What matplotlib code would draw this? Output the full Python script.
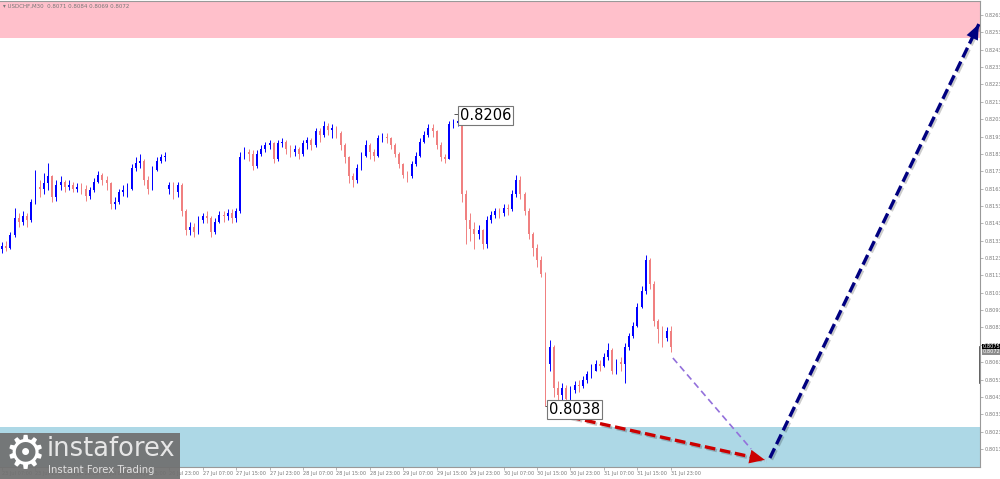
import numpy as np
import matplotlib
matplotlib.use("Agg")
import matplotlib.pyplot as plt
from matplotlib import patheffects as pe
from matplotlib.patches import Rectangle

# USDCHF prices in 1e-4 units (8130 -> 0.8130), one candle per hour
first_open = 8128
gap_bar, gap_open = 40, 8163          # Monday open after the weekend gap
closes = [
    8130, 8129, 8136, 8146, 8144, 8147, 8145, 8155, 8164, 8163,
    8166, 8170, 8158, 8165, 8167, 8164, 8165, 8163, 8164, 8163,
    8159, 8162, 8167, 8171, 8168, 8166, 8154, 8155, 8161, 8162,
    8163, 8175, 8178, 8179, 8168, 8163, 8174, 8179, 8181, 8182,
    8165, 8161, 8165, 8150, 8139, 8141, 8138, 8145, 8147, 8146,
    8138, 8144, 8148, 8147, 8149, 8146, 8150, 8181, 8184, 8183,
    8176, 8183, 8186, 8188, 8189, 8180, 8189, 8190, 8186, 8184,
    8186, 8183, 8189, 8191, 8188, 8196, 8194, 8199, 8197, 8198,
    8195, 8188, 8181, 8170, 8168, 8175, 8182, 8188, 8184, 8182,
    8192, 8193, 8192, 8188, 8183, 8177, 8171, 8170, 8177, 8182,
    8190, 8194, 8198, 8196, 8188, 8181, 8180, 8200, 8201, 8202,
    8160, 8145, 8140, 8137, 8139, 8131, 8145, 8148, 8150, 8149,
    8152, 8151, 8160, 8168, 8160, 8150, 8137, 8129, 8122, 8114,
    8062, 8072, 8048, 8044, 8048, 8042, 8047, 8050, 8049, 8053,
    8056, 8058, 8062, 8061, 8066, 8070, 8058, 8063, 8062, 8072,
    8078, 8084, 8095, 8104, 8122, 8108, 8087, 8082, 8077, 8081,
    8072]
highs = [
    8132, 8133, 8138, 8152, 8149, 8150, 8149, 8157, 8174, 8168,
    8172, 8178, 8171, 8168, 8170, 8168, 8168, 8167, 8166, 8166,
    8165, 8164, 8169, 8173, 8172, 8170, 8167, 8158, 8163, 8165,
    8166, 8177, 8181, 8183, 8180, 8170, 8176, 8181, 8183, 8184,
    8167, 8167, 8167, 8166, 8151, 8144, 8143, 8147, 8149, 8150,
    8147, 8146, 8150, 8150, 8151, 8151, 8152, 8184, 8187, 8186,
    8185, 8185, 8188, 8190, 8191, 8190, 8191, 8192, 8191, 8188,
    8188, 8187, 8191, 8193, 8192, 8198, 8198, 8202, 8201, 8200,
    8199, 8196, 8189, 8182, 8172, 8177, 8184, 8191, 8189, 8186,
    8194, 8195, 8195, 8193, 8189, 8184, 8178, 8173, 8179, 8184,
    8192, 8196, 8200, 8200, 8197, 8190, 8183, 8202, 8203, 8206,
    8203, 8162, 8149, 8144, 8142, 8140, 8147, 8150, 8152, 8152,
    8154, 8154, 8162, 8171, 8170, 8161, 8152, 8138, 8131, 8124,
    8115, 8076, 8073, 8052, 8051, 8050, 8049, 8052, 8053, 8055,
    8058, 8062, 8064, 8064, 8068, 8074, 8071, 8065, 8066, 8074,
    8080, 8086, 8097, 8107, 8125, 8123, 8110, 8088, 8084, 8083,
    8084]
lows = [
    8126, 8127, 8128, 8135, 8141, 8142, 8141, 8144, 8154, 8158,
    8160, 8162, 8155, 8156, 8162, 8161, 8162, 8161, 8161, 8160,
    8156, 8157, 8161, 8166, 8165, 8162, 8151, 8151, 8154, 8159,
    8158, 8162, 8173, 8175, 8165, 8160, 8162, 8173, 8178, 8179,
    8160, 8157, 8158, 8147, 8136, 8136, 8135, 8137, 8143, 8143,
    8135, 8137, 8143, 8144, 8145, 8143, 8144, 8149, 8180, 8179,
    8174, 8175, 8182, 8184, 8186, 8178, 8179, 8187, 8183, 8181,
    8182, 8180, 8182, 8186, 8185, 8187, 8190, 8193, 8194, 8192,
    8192, 8185, 8178, 8166, 8164, 8166, 8174, 8181, 8180, 8179,
    8181, 8190, 8189, 8186, 8181, 8175, 8169, 8167, 8169, 8176,
    8181, 8189, 8193, 8193, 8186, 8179, 8178, 8180, 8198, 8199,
    8155, 8131, 8133, 8128, 8134, 8128, 8129, 8143, 8146, 8146,
    8147, 8148, 8150, 8158, 8157, 8148, 8134, 8124, 8118, 8112,
    8038, 8058, 8043, 8040, 8040, 8039, 8040, 8045, 8046, 8048,
    8051, 8054, 8058, 8058, 8060, 8064, 8056, 8056, 8058, 8051,
    8070, 8077, 8083, 8094, 8102, 8105, 8084, 8074, 8072, 8075,
    8069]

date_labels = ["23 Jul 07:00", "23 Jul 15:00", "23 Jul 23:00", "24 Jul 07:00",
               "24 Jul 15:00", "26 Jul 23:00", "27 Jul 07:00", "27 Jul 15:00",
               "27 Jul 23:00", "28 Jul 07:00", "28 Jul 15:00", "28 Jul 23:00",
               "29 Jul 07:00", "29 Jul 15:00", "29 Jul 23:00", "30 Jul 07:00",
               "30 Jul 15:00", "30 Jul 23:00", "31 Jul 07:00", "31 Jul 15:00",
               "31 Jul 23:00"]
price_ticks = [0.8013 + 0.001 * k for k in range(26)]

sell_zone = (0.8250, 0.8275)
buy_zone = (0.7990, 0.80257)
top_mark = (109, 0.8206)
low_mark = (130, 0.8038)
purple_leg = ([160.5, 179.2], [0.80654, 0.80130])
red_leg = ([135.9, 182.5], [0.80314, 0.80067])
navy_leg = ([183.7, 233.7], [0.80078, 0.82578])

UP, DOWN = "#0000ff", "#f08080"

fig = plt.figure(figsize=(10, 4.79), dpi=100, facecolor="white")
ax = fig.add_axes([0.0, 12 / 479, 0.98, 466 / 479])

c = np.array(closes) / 1e4
o = np.r_[first_open, closes[:-1]] / 1e4
o[gap_bar] = gap_open / 1e4
hi = np.array(highs) / 1e4
lo = np.array(lows) / 1e4
x = np.arange(len(c))
up = c >= o
cols = np.where(up, UP, DOWN)

ax.axhspan(*sell_zone, color="#ffc0cb", lw=0, zorder=0)
ax.axhspan(*buy_zone, color="#add8e6", lw=0, zorder=0)

ax.vlines(x, lo, hi, colors=cols, lw=0.7, zorder=2)
ax.bar(x, np.maximum(np.abs(c - o), 0.00004), bottom=np.minimum(o, c),
       width=0.42, color=cols, lw=0, zorder=3)

# extreme labels
box = dict(boxstyle="square,pad=0.12", fc="white", ec="#777777", lw=0.8)
ax.hlines(top_mark[1], top_mark[0] - 0.8, top_mark[0] + 0.3, color="#555", lw=0.7)
ax.annotate(f"{top_mark[1]:.4f}", top_mark, xytext=(1.5, -1), textcoords="offset points",
            fontsize=10.5, ha="left", va="center", bbox=box, zorder=6)
ax.hlines(low_mark[1] - 0.00003, low_mark[0] - 0.2, low_mark[0] + 0.7, color="#555", lw=0.7)
ax.annotate(f"{low_mark[1]:.4f}", low_mark, xytext=(2.5, -3), textcoords="offset points",
            fontsize=10.5, ha="left", va="center", bbox=box, zorder=6)

shadow = [pe.SimpleLineShadow(offset=(1.2, -1.2), alpha=0.2), pe.Normal()]
ax.plot(*purple_leg, color="#9370db", lw=1.2, dashes=(4, 2.5), zorder=4)
for (xs, ys), col, hw in ((red_leg, "#cc0000", 0.5), (navy_leg, "#000080", 0.45)):
    ax.plot(xs, ys, color=col, lw=2.4, dashes=(3.2, 1.4), solid_capstyle="butt",
            path_effects=shadow, zorder=5)
    ax.annotate("", xy=(xs[1], ys[1]),
                xytext=(xs[0] + 0.9 * (xs[1] - xs[0]), ys[0] + 0.9 * (ys[1] - ys[0])),
                arrowprops=dict(arrowstyle=f"-|>,head_length=1.1,head_width={hw}",
                                color=col, lw=0, mutation_scale=10,
                                shrinkA=0, shrinkB=0), zorder=6)

ax.set_xlim(-0.48, 233.97)
ax.set_ylim(0.80026, 0.82711)
ax.set_xticks(x[::8], date_labels)
for t in ax.get_xticklabels():
    t.set_horizontalalignment("left")
ax.yaxis.tick_right()
ax.set_yticks(price_ticks, [f"{p:.4f}" for p in price_ticks])
ax.tick_params(axis="both", labelsize=3.6, labelcolor="#777777", color="#999999",
               length=2, width=0.5, pad=1)
ax.spines["left"].set_visible(False)
for side in ("right", "bottom", "top"):
    ax.spines[side].set_color("#999999")
    ax.spines[side].set_linewidth(0.8)

# current price boxes on the scale
yt = ax.get_yaxis_transform()
ax.plot([1.0, 1.0], [0.80718, 0.80510], transform=yt, color="#444", lw=1.2, clip_on=False)
ax.text(1.003, 0.80718, "0.8075", transform=yt, fontsize=3.6, color="white", va="center",
        bbox=dict(boxstyle="square,pad=0.15", fc="black", ec="none"), clip_on=False)
ax.text(1.003, 0.80690, "0.8072", transform=yt, fontsize=3.6, color="white", va="center",
        bbox=dict(boxstyle="square,pad=0.15", fc="#8c8c8c", ec="none"), clip_on=False)

fig.text(0.003, 1 - 6 / 479, "\u25be USDCHF,M30  0.8071 0.8084 0.8069 0.8072",
         fontsize=4, color="#777777", va="center")

# logo
fig.add_artist(Rectangle((0, 0), 0.18, 46 / 479, transform=fig.transFigure,
                         fc="#707070", ec="none", alpha=0.93, zorder=10))
fig.text(0.025, 0.049, "\u2699", fontsize=33, color="white", ha="center", va="center", zorder=11)
fig.text(0.047, 0.063, "instaforex", fontsize=18.5, color="#e6e6e6", va="center", zorder=11)
fig.text(0.048, 0.018, "Instant Forex Trading", fontsize=7.3, color="#e0e0e0",
         va="center", zorder=11)

fig.savefig("out.png", dpi=100, facecolor="white")
